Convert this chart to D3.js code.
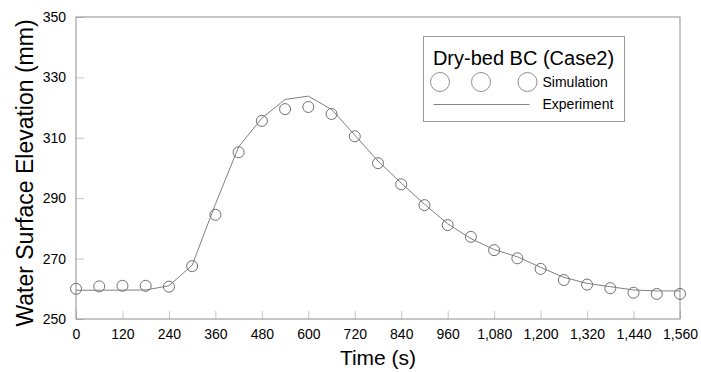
<!DOCTYPE html>
<html>
<head>
<meta charset="utf-8">
<script src="https://cdn.jsdelivr.net/npm/d3@7"></script>
<style>
  body { margin: 0; background: #fff; }
  text { font-family: "Liberation Sans", Arial, sans-serif; }
</style>
</head>
<body>
<script>
// simulation circles every 60 s
var simTime = [0, 60, 120, 180, 240, 300, 360, 420, 480, 540, 600, 660, 720, 780,
  840, 900, 960, 1020, 1080, 1140, 1200, 1260, 1320, 1380, 1440, 1500, 1560];
var simValue = [260.0, 260.8, 261.0, 261.0, 260.7, 267.5, 284.5, 305.2, 315.6, 319.5,
  320.2, 317.9, 310.5, 301.6, 294.6, 287.7, 281.1, 277.2, 272.8, 270.1, 266.6, 262.9,
  261.4, 260.2, 258.7, 258.3, 258.3];

// experiment polyline
var expTime = [0, 180, 240, 300, 360, 420, 480, 540, 600, 660, 720, 780, 840, 900,
  960, 1020, 1080, 1140, 1200, 1260, 1320, 1380, 1440, 1500, 1560];
var expValue = [259.5, 259.6, 261.0, 267.8, 288.0, 307.0, 316.5, 322.7, 323.8, 319.4,
  310.9, 302.3, 295.0, 288.0, 281.5, 276.6, 273.0, 270.6, 267.1, 263.8, 261.8, 260.7,
  259.6, 259.3, 259.3];

var xTicks = [0, 120, 240, 360, 480, 600, 720, 840, 960, 1080, 1200, 1320, 1440, 1560];
var yTicks = [250, 270, 290, 310, 330, 350];

var margin = { top: 17, right: 21, bottom: 53, left: 76 },
  width = 701 - margin.left - margin.right,
  height = 372 - margin.top - margin.bottom;

var svg = d3.select("body").append("svg")
  .attr("width", 701)
  .attr("height", 372);

var g = svg.append("g")
  .attr("transform", "translate(" + margin.left + "," + margin.top + ")");

var x = d3.scaleLinear().domain([0, 1560]).range([0, width]);
var y = d3.scaleLinear().domain([250, 350]).range([height, 0]);

var xAxis = d3.axisBottom(x)
  .tickValues(xTicks)
  .tickFormat(d3.format(","))
  .tickSizeInner(-8)
  .tickSizeOuter(0)
  .tickPadding(10);

var yAxis = d3.axisLeft(y)
  .tickValues(yTicks)
  .tickSizeInner(-8)
  .tickSizeOuter(0)
  .tickPadding(10);

var gx = g.append("g")
  .attr("transform", "translate(0," + height + ")")
  .call(xAxis);

var gy = g.append("g").call(yAxis);

[gx, gy].forEach(function (a) {
  a.select(".domain").remove();
  a.selectAll(".tick line").attr("stroke", "#c4c4c4");
  a.selectAll(".tick text")
    .attr("fill", "#000")
    .style("font-size", "14px");
});

// frame
g.append("rect")
  .attr("width", width)
  .attr("height", height)
  .attr("fill", "none")
  .attr("stroke", "#8c8c8c")
  .attr("stroke-width", 1);

var line = d3.line()
  .x(function (d, i) { return x(expTime[i]); })
  .y(function (d) { return y(d); });

g.append("path")
  .datum(expValue)
  .attr("d", line)
  .attr("fill", "none")
  .attr("stroke", "#808080")
  .attr("stroke-width", 1);

g.selectAll(".sim")
  .data(simValue)
  .enter().append("circle")
  .attr("class", "sim")
  .attr("cx", function (d, i) { return x(simTime[i]); })
  .attr("cy", function (d) { return y(d); })
  .attr("r", 5.5)
  .attr("fill", "none")
  .attr("stroke", "#707070")
  .attr("stroke-width", 1);

// axis titles
svg.append("text")
  .attr("x", margin.left + width / 2)
  .attr("y", 365)
  .attr("text-anchor", "middle")
  .style("font-size", "21px")
  .text("Time (s)");

svg.append("text")
  .attr("transform", "translate(33," + (margin.top + height / 2 + 5) + ") rotate(-90)")
  .attr("text-anchor", "middle")
  .style("font-size", "23px")
  .text("Water Surface Elevation (mm)");

// legend
var lg = svg.append("g").attr("transform", "translate(423.5,36.5)");
lg.append("rect")
  .attr("width", 201)
  .attr("height", 85)
  .attr("fill", "#fff")
  .attr("stroke", "#999")
  .attr("stroke-width", 1);
lg.append("text")
  .attr("x", 100)
  .attr("y", 28)
  .attr("text-anchor", "middle")
  .style("font-size", "20px")
  .text("Dry-bed BC (Case2)");
[16.5, 57.5, 104].forEach(function (cx) {
  lg.append("circle")
    .attr("cx", cx)
    .attr("cy", 45.5)
    .attr("r", 9.5)
    .attr("fill", "none")
    .attr("stroke", "#909090");
});
lg.append("text")
  .attr("x", 119)
  .attr("y", 50)
  .style("font-size", "14px")
  .text("Simulation");
lg.append("line")
  .attr("x1", 10).attr("x2", 106)
  .attr("y1", 68).attr("y2", 68)
  .attr("stroke", "#808080");
lg.append("text")
  .attr("x", 119)
  .attr("y", 72)
  .style("font-size", "14px")
  .text("Experiment");
</script>
</body>
</html>
